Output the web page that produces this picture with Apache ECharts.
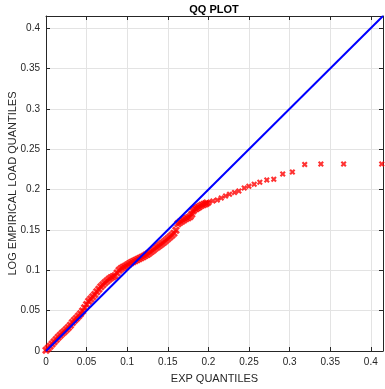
<!DOCTYPE html>
<html>
<head>
<meta charset="utf-8">
<script src="https://cdn.jsdelivr.net/npm/echarts@6/dist/echarts.min.js"></script>
<style>
  html, body { margin: 0; padding: 0; background: #fff; }
  #main { width: 385px; height: 389px; }
</style>
</head>
<body>
<div id="main"></div>
<script>
// exp quantiles (x) and log empirical load quantiles (y)
const expQ = [
  0.000, 0.0025, 0.005, 0.0075, 0.010, 0.0125, 0.015, 0.0175, 0.020, 0.0225,
  0.025, 0.0275, 0.030, 0.0325, 0.035, 0.0375, 0.040, 0.0425, 0.045, 0.0475,
  0.050, 0.0525, 0.055, 0.0575, 0.060, 0.0625, 0.065, 0.0675, 0.070, 0.0725,
  0.075, 0.0775, 0.080, 0.0825, 0.085, 0.0875, 0.090, 0.0925, 0.095, 0.0975,
  0.100, 0.1025, 0.105, 0.1075, 0.110, 0.1125, 0.115, 0.1175, 0.120, 0.1225,
  0.125, 0.1275, 0.130, 0.1325, 0.135, 0.1375, 0.140, 0.1425, 0.145, 0.1475,
  0.150, 0.1525, 0.155, 0.1575, 0.160, 0.1625, 0.165, 0.1675, 0.170, 0.1725,
  0.175, 0.1775, 0.1795, 0.181, 0.183, 0.185, 0.187, 0.189, 0.1916, 0.194,
  0.1962, 0.198, 0.2006, 0.2055, 0.2109, 0.2158, 0.2211, 0.226, 0.2322, 0.2375,
  0.2441, 0.2498, 0.2564, 0.2633, 0.2719, 0.2805, 0.2915, 0.3034, 0.3186, 0.3385,
  0.3665, 0.4134
];
const logQ = [
  0.001, 0.0035, 0.006, 0.0088, 0.0115, 0.0142, 0.017, 0.0196, 0.022, 0.0243,
  0.0266, 0.0292, 0.032, 0.0352, 0.038, 0.0405, 0.0433, 0.0463, 0.0497, 0.0535,
  0.0575, 0.0615, 0.0645, 0.0672, 0.070, 0.0735, 0.0765, 0.0795, 0.082, 0.0845,
  0.0868, 0.089, 0.0908, 0.092, 0.0932, 0.0965, 0.100, 0.1023, 0.1037, 0.105,
  0.1065, 0.108, 0.1095, 0.111, 0.112, 0.1132, 0.1145, 0.1157, 0.117, 0.1187,
  0.120, 0.1218, 0.1237, 0.1255, 0.1275, 0.1293, 0.131, 0.1328, 0.1348, 0.137,
  0.139, 0.1412, 0.1435, 0.146, 0.1495, 0.1575, 0.1595, 0.161, 0.1625, 0.164,
  0.1652, 0.1665, 0.1695, 0.1735, 0.1755, 0.1765, 0.1778, 0.179, 0.1805, 0.1815,
  0.1825, 0.1832, 0.1838, 0.1859, 0.1871, 0.1896, 0.1921, 0.1942, 0.1962, 0.1983,
  0.202, 0.2041, 0.2066, 0.209, 0.2119, 0.2128, 0.2193, 0.2218, 0.2309, 0.2317,
  0.2317, 0.2317
];
// reference line y = x
const refLine = [[0, 0], [0.415, 0.415]];
const axisMax = 0.415;

// bold 'x' marker
const xMark = 'path://M0,2.5L2.5,0L5,2.5L7.5,0L10,2.5L7.5,5L10,7.5L7.5,10L5,7.5L2.5,10L0,7.5L2.5,5Z';
const ink = '#262626';

const chart = echarts.init(document.getElementById('main'));

const baseAxis = {
  type: 'value',
  min: 0,
  max: axisMax,
  interval: 0.05,
  axisLine: { show: true, onZero: false, lineStyle: { color: ink, width: 1 } },
  axisTick: { show: true, inside: true, length: 4, lineStyle: { color: ink } },
  splitLine: { show: true, lineStyle: { color: '#e3e3e3', width: 1 } },
  axisLabel: {
    color: ink, fontSize: 10, fontFamily: 'Liberation Sans', margin: 6,
    showMaxLabel: false
  }
};

const option = {
  animation: false,
  title: {
    text: 'QQ PLOT',
    left: 209,
    top: -1,
    textAlign: 'center',
    textStyle: { fontSize: 11, fontWeight: 'bold', color: '#000', fontFamily: 'Liberation Sans' }
  },
  grid: { left: 46, right: 2, top: 16, bottom: 38, outerBoundsMode: 'none', containLabel: false },
  xAxis: [
    Object.assign({}, baseAxis, {
      position: 'bottom',
      name: 'EXP QUANTILES',
      nameLocation: 'middle',
      nameGap: 22,
      nameMoveOverlap: false,
      nameTextStyle: { color: ink, fontSize: 11, fontFamily: 'Liberation Sans' }
    }),
    Object.assign({}, baseAxis, {
      position: 'top',
      axisLabel: { show: false },
      splitLine: { show: false }
    })
  ],
  yAxis: [
    Object.assign({}, baseAxis, {
      position: 'left',
      name: 'LOG EMPIRICAL LOAD QUANTILES',
      nameLocation: 'middle',
      nameGap: 28,
      nameMoveOverlap: false,
      nameTextStyle: { color: ink, fontSize: 11, fontFamily: 'Liberation Sans' }
    }),
    Object.assign({}, baseAxis, {
      position: 'right',
      axisLabel: { show: false },
      splitLine: { show: false }
    })
  ],
  series: [
    {
      type: 'scatter',
      data: expQ.map((x, i) => [x, logQ[i]]),
      symbol: xMark,
      symbolSize: function (val) { return val[0] < 0.2 ? 8 : 6; },
      itemStyle: { color: '#ff0000' },
      z: 2
    },
    {
      type: 'line',
      data: refLine,
      showSymbol: false,
      lineStyle: { color: '#0000ff', width: 2 },
      z: 3
    }
  ]
};

chart.setOption(option);
</script>
</body>
</html>
